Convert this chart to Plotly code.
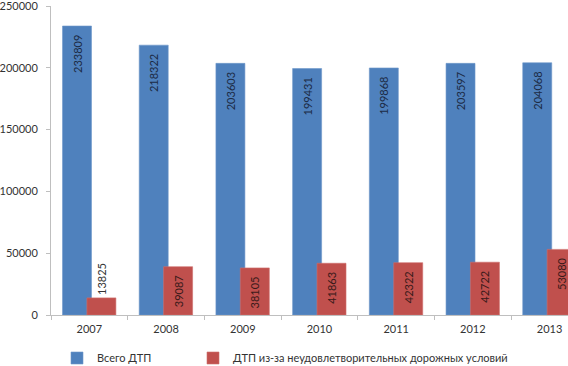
import plotly.graph_objects as go

years = ["2007", "2008", "2009", "2010", "2011", "2012", "2013"]
total_dtp = [233809, 218322, 203603, 199431, 199868, 203597, 204068]
road_dtp = [13825, 39087, 38105, 41863, 42322, 42722, 53080]
series_names = ["Всего ДТП", "ДТП из-за неудовлетворительных дорожных условий"]
y_ticks = [0, 50000, 100000, 150000, 200000, 250000]

FONT = "Lato"
pad = "\u00a0\u00a0"

fig = go.Figure()
fig.add_trace(go.Bar(
    x=years, y=total_dtp, name=series_names[0], legend="legend",
    marker=dict(color="#4F81BD", line=dict(color="#6f97c9", width=0.6)),
    width=0.378, offset=-0.35,
    text=[f"{v}{pad}" for v in total_dtp],
    textposition="inside", insidetextanchor="end", textangle=-90,
    constraintext="none",
    textfont=dict(family=FONT, size=11, color="#1c2b45"),
))
fig.add_trace(go.Bar(
    x=years, y=road_dtp, name=series_names[1], legend="legend2",
    marker=dict(color="#C0504D", line=dict(color="#cf6f6c", width=0.6)),
    width=0.378, offset=-0.032,
    text=[f"{v}{pad}" for v in road_dtp],
    textposition=["outside" if v < 25000 else "inside" for v in road_dtp],
    insidetextanchor="end", textangle=-90,
    constraintext="none", cliponaxis=False,
    textfont=dict(family=FONT, size=11, color="#3a1a1a"),
    outsidetextfont=dict(family=FONT, size=11, color="#333333"),
))

legend_common = dict(orientation="h", xref="container", yref="container",
                     yanchor="middle", xanchor="left",
                     font=dict(family=FONT, size=11, color="#333333"),
                     itemwidth=30, bgcolor="rgba(0,0,0,0)")

fig.update_layout(
    width=568, height=366,
    margin=dict(l=51, r=0, t=6, b=51, autoexpand=False),
    paper_bgcolor="white", plot_bgcolor="white",
    barmode="overlay",
    font=dict(family=FONT, size=11, color="#333333"),
    showlegend=True,
    legend=dict(x=57 / 568, y=(366 - 358) / 366, **legend_common),
    legend2=dict(x=193 / 568, y=(366 - 358) / 366, **legend_common),
    xaxis=dict(type="category", range=[-0.5, 6.24], showgrid=False, automargin=False,
               showline=True, linecolor="#bfbfbf", linewidth=1,
               ticks="outside", tickson="boundaries", ticklen=4, tickcolor="#bfbfbf",
               ticklabelstandoff=4, tickfont=dict(family=FONT, size=11, color="#333333")),
    yaxis=dict(range=[0, 250000], tickvals=y_ticks, ticktext=[str(t) for t in y_ticks],
               showgrid=False, zeroline=False, automargin=False,
               ticklabeloverflow="allow",
               showline=True, linecolor="#bfbfbf", linewidth=1,
               ticks="outside", ticklen=4, tickcolor="#bfbfbf",
               ticklabelstandoff=6, tickfont=dict(family=FONT, size=11, color="#333333")),
)

fig.write_html("out.html", config={"displayModeBar": False},
               post_script="document.body.style.margin='0';document.body.style.padding='0';")
